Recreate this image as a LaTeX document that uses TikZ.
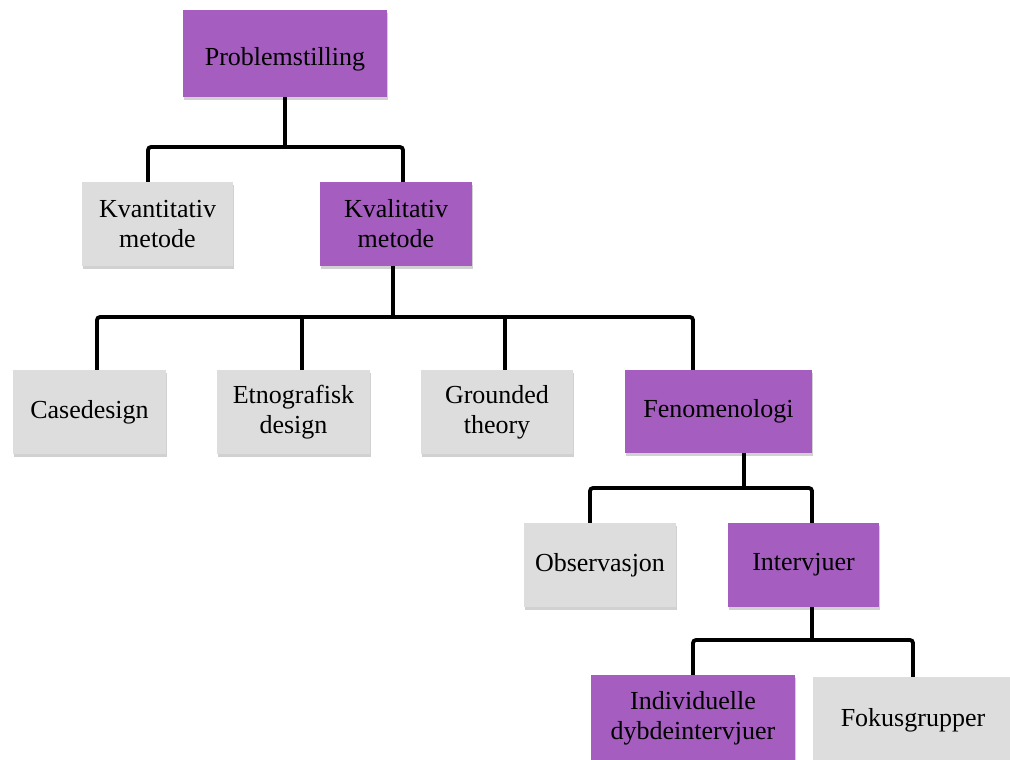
\documentclass[tikz,border=0pt]{standalone}
\usepackage{fontspec}
\setmainfont{Liberation Serif}
\usetikzlibrary{shadows,calc}
\definecolor{purp}{RGB}{165,93,191}
\definecolor{lgray}{RGB}{221,221,221}
\begin{document}
\begin{tikzpicture}[x=1pt,y=-1pt,
  box/.style={rectangle, inner sep=0pt, minimum height=84pt, align=center,
    font=\fontsize{26}{30}\selectfont, text=black,
    drop shadow={shadow xshift=1pt, shadow yshift=-3pt, fill=black, opacity=0.18}},
  pbox/.style={box, fill=purp},
  gbox/.style={box, fill=lgray},
  conn/.style={draw=black, line width=3.8pt, rounded corners=3pt}]
\useasboundingbox (0,0) rectangle (1010,760);
\fill[white] (0,0) rectangle (1010,760);

\node[pbox, minimum width=204pt, minimum height=87pt, text height=24pt, text depth=0pt] (prob) at (285,53.5) {Problemstilling};
\node[gbox, minimum width=151pt] (kvant) at (157.5,224) {Kvantitativ\\metode};
\node[pbox, minimum width=152pt] (kval) at (396,224) {Kvalitativ\\metode};

\node[gbox, minimum width=153pt] (case) at (89.5,412) {Casedesign};
\node[gbox, minimum width=153pt] (etno) at (293.5,412) {Etnografisk\\design};
\node[gbox, minimum width=152pt] (grnd) at (497,412) {Grounded\\theory};
\node[pbox, minimum width=187pt, minimum height=83pt] (feno) at (718.5,411.5) {Fenomenologi};

\node[gbox, minimum width=152pt] (obs) at (600,565) {Observasjon};
\node[pbox, minimum width=151pt] (intv) at (803.5,565) {Intervjuer};

\node[pbox, minimum width=204pt, minimum height=86pt] (indiv) at (693,718) {Individuelle\\dybdeintervjuer};
\node[gbox, minimum width=200pt, minimum height=86pt] (fokus) at (913,720) {Fokusgrupper};

\coordinate (j1) at (285,147);
\coordinate (j2) at (393,317);
\coordinate (j3) at (744,488);
\coordinate (j4) at (812,640);

\draw[conn] (prob.south) -- (j1);
\draw[conn] ([xshift=-9.5pt]kvant.north) |- (j1) -| ([xshift=7pt]kval.north);

\draw[conn] ([xshift=-3pt]kval.south) -- (j2);
\draw[conn] ([xshift=7.5pt]case.north) |- (j2) -| ([xshift=-25.5pt]feno.north);
\draw[conn] ([xshift=8.5pt]etno.north) -- ([xshift=8.5pt]etno.north |- j2);
\draw[conn] ([xshift=8pt]grnd.north) -- ([xshift=8pt]grnd.north |- j2);

\draw[conn] ([xshift=25.5pt]feno.south) -- (j3);
\draw[conn] ([xshift=-10pt]obs.north) |- (j3) -| ([xshift=8.5pt]intv.north);

\draw[conn] ([xshift=8.5pt]intv.south) -- (j4);
\draw[conn] (indiv.north) |- (j4) -| (fokus.north);
\end{tikzpicture}
\end{document}
